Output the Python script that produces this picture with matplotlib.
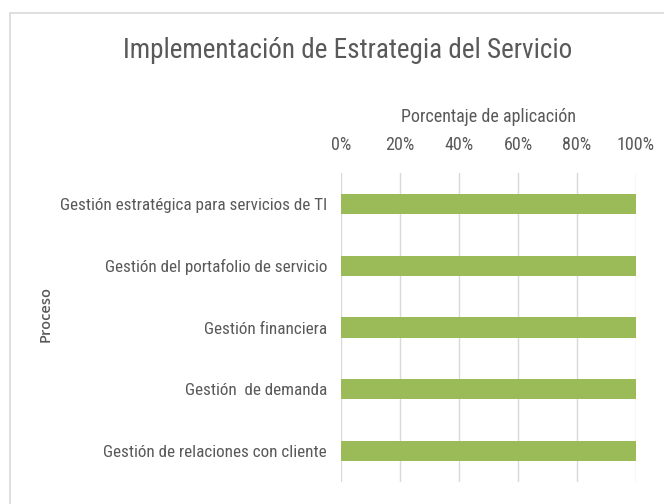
import matplotlib
matplotlib.use("Agg")
import matplotlib.pyplot as plt
from matplotlib.patches import Rectangle
from matplotlib.ticker import FuncFormatter

categories = ["Gestión estratégica para servicios de TI",
              "Gestión del portafolio de servicio",
              "Gestión financiera",
              "Gestión  de demanda",
              "Gestión de relaciones con cliente"]
values = [1.0, 1.0, 1.0, 1.0, 1.0]
xticks = [0, 0.2, 0.4, 0.6, 0.8, 1.0]

plt.rcParams['font.family'] = ['Roboto Condensed', 'DejaVu Sans']
gray = "#595959"

fig = plt.figure(figsize=(6.64, 5.04), dpi=100)
fig.patches.append(Rectangle((10/664, -0.1), 1.0, (504-13)/504 + 0.1, transform=fig.transFigure,
                             fill=False, edgecolor="#d9d9d9", linewidth=1.2, zorder=0))

ax = fig.add_axes([341/664, 1-482/504, (636-341)/664, (482-173)/504])
ypos = list(range(len(categories)))
ax.barh(ypos, values, height=0.33, color="#9BBB59", zorder=3)
ax.set_ylim(len(categories)-0.5, -0.5)
ax.set_xlim(0, 1)
ax.set_yticks(ypos)
ax.set_yticklabels(categories, fontsize=12.3, color=gray)
ax.set_xticks(xticks)
ax.xaxis.set_major_formatter(FuncFormatter(lambda v, p: f"{v*100:.0f}%"))
ax.xaxis.tick_top()
ax.xaxis.set_label_position("top")
ax.tick_params(axis='x', length=0, labelsize=13, labelcolor=gray, pad=14)
ax.tick_params(axis='y', length=0, pad=10)
ax.grid(axis='x', color="#d9d9d9", linewidth=1, zorder=0)
for s in ax.spines.values():
    s.set_visible(False)
ax.set_xlabel("Porcentaje de aplicación", fontsize=13, color=gray, labelpad=10)

fig.text(46/664, 1-314/504, "Proceso", rotation=90, ha='center', va='center',
         fontsize=10.5, color=gray, fontweight='semibold', family=['Open Sans', 'DejaVu Sans'])
fig.text(348/664, 1-51/504, "Implementación de Estrategia del Servicio", ha='center', va='center',
         fontsize=19.5, color=gray)

fig.savefig("out.png", dpi=100)
